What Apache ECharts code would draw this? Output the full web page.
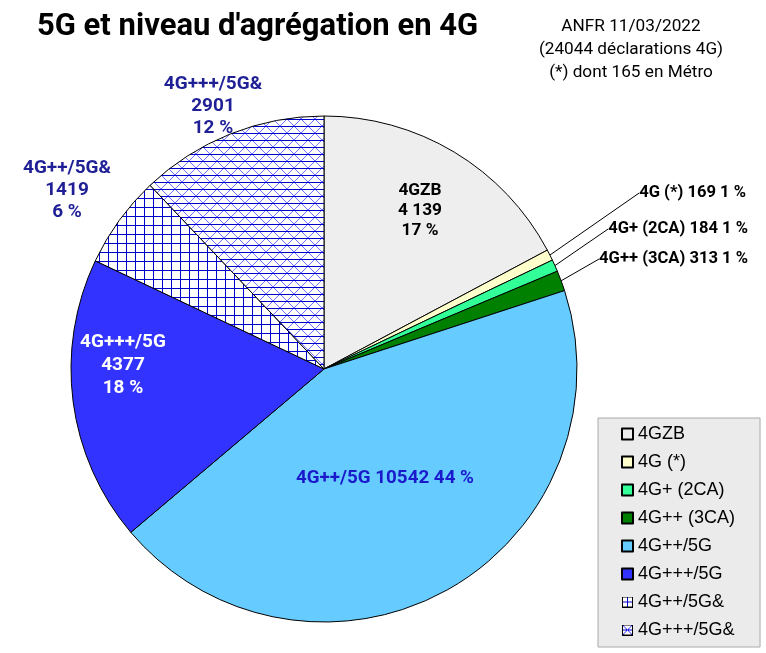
<!DOCTYPE html>
<html><head><meta charset="utf-8">
<script src="https://cdn.jsdelivr.net/npm/echarts@6/dist/echarts.min.js"></script>
<style>html,body{margin:0;padding:0;background:#fff}#c{width:766px;height:653px}</style>
</head><body><div id="c"></div>
<script>
const categories = ['4GZB', '4G (*)', '4G+ (2CA)', '4G++ (3CA)', '4G++/5G', '4G+++/5G', '4G++/5G&', '4G+++/5G&'];
const values = [4139, 169, 184, 313, 10542, 4377, 1419, 2901];
const titleText = "5G et niveau d'agrégation en 4G";
const noteLines = ['ANFR 11/03/2022', '(24044 déclarations 4G)', '(*) dont 165 en Métro'];

function makeGrid(){
  const s = 9, c = document.createElement('canvas'); c.width = s; c.height = s;
  const g = c.getContext('2d');
  g.fillStyle = '#fff'; g.fillRect(0,0,s,s);
  g.fillStyle = '#0000cc'; g.fillRect(0,0,s,1); g.fillRect(0,0,1,s);
  return c;
}
function makeCross(){
  const s = 14, c = document.createElement('canvas'); c.width = s; c.height = s;
  const g = c.getContext('2d');
  g.fillStyle = '#fff'; g.fillRect(0,0,s,s);
  g.strokeStyle = '#7070ff'; g.lineWidth = 1;
  g.beginPath(); g.moveTo(-1,-1); g.lineTo(s+1,s+1); g.moveTo(s+1,-1); g.lineTo(-1,s+1); g.stroke();
  g.fillStyle = '#0000cc'; g.fillRect(0,0,s,1); g.fillRect(0,7,s,1);
  return c;
}
function makeIcon(kind){
  const s = 11, c = document.createElement('canvas'); c.width = s; c.height = s;
  const g = c.getContext('2d');
  g.fillStyle = '#fff'; g.fillRect(0,0,s,s);
  g.fillStyle = '#0000cc';
  if (kind === 'grid') { g.fillRect(5,0,1,s); g.fillRect(0,5,s,1); }
  else {
    g.strokeStyle = '#3030ff'; g.lineWidth = 1;
    g.beginPath(); g.moveTo(0,0); g.lineTo(s,s); g.moveTo(s,0); g.lineTo(0,s); g.stroke();
    g.fillRect(0,5,s,1);
  }
  g.strokeStyle = '#000'; g.lineWidth = 1; g.strokeRect(0.5,0.5,s-1,s-1);
  return 'image://' + c.toDataURL();
}

const colors = ['#eeeeee', '#ffffcc', '#33ff99', '#008000', '#66ccff', '#3333ff',
  {image: makeGrid(), repeat: 'repeat'}, {image: makeCross(), repeat: 'repeat'}];

const labelPos = [[420,211,'center'],[746,193,'right'],[748,229,'right'],[748,259,'right'],
                  [385,478,'center'],[123,365,'center'],[67,190,'center'],[213,106,'center']];

const base = {fontFamily: 'Roboto', fontWeight: 'bold', fontSize: 17};
function fmtSpace(v){ return String(v).replace(/\B(?=(\d{3})+(?!\d))/g, ' '); }
const labelCfg = [
  Object.assign({}, base, {position:'inside', color:'#000', fontSize:17.3, lineHeight:20,
    formatter: p => p.name + '\n' + fmtSpace(p.value) + '\n' + p.percent + ' %'}),
  Object.assign({}, base, {position:'outside', color:'#000', fontSize:16.6, formatter:'{b} {c} {d} %'}),
  Object.assign({}, base, {position:'outside', color:'#000', fontSize:16.6, formatter:'{b} {c} {d} %'}),
  Object.assign({}, base, {position:'outside', color:'#000', fontSize:16.6, formatter:'{b} {c} {d} %'}),
  Object.assign({}, base, {position:'inside', color:'#1a1acc', fontSize:18.8, formatter:'{b} {c} {d} %'}),
  Object.assign({}, base, {position:'inside', color:'#fff', fontSize:19, lineHeight:23, formatter:'{b}\n{c}\n{d} %'}),
  Object.assign({}, base, {position:'outside', color:'#1f1f96', fontSize:19, lineHeight:22, formatter:'{b}\n{c}\n{d} %'}),
  Object.assign({}, base, {position:'outside', color:'#1f1f96', fontSize:19, lineHeight:22, formatter:'{b}\n{c}\n{d} %'})
];

const legendData = categories.map((n, i) => {
  if (i === 6) return {name: n, icon: makeIcon('grid')};
  if (i === 7) return {name: n, icon: makeIcon('cross')};
  return {name: n, icon: 'rect'};
});

const chart = echarts.init(document.getElementById('c'), null, {renderer: 'canvas'});
chart.setOption({
  animation: false,
  backgroundColor: '#fff',
  title: {text: titleText, left: 32, top: 7,
    textStyle: {fontFamily: 'Roboto', fontSize: 31, fontWeight: 'bold', color: '#000'}},
  graphic: [{type: 'text', x: 631, y: 15.5, silent: true,
    style: {text: noteLines.join('\n'), textAlign: 'center', fontFamily: 'Roboto', fontSize: 17.2, lineHeight: 23, fill: '#000'}}],
  legend: {
    orient: 'vertical', left: 598, top: 418, selectedMode: false,
    itemWidth: 11, itemHeight: 11, itemGap: 8,
    padding: [6, 25, 7, 23],
    backgroundColor: '#ebebeb', borderColor: '#aaaaaa', borderWidth: 1,
    textStyle: {fontFamily: 'Liberation Sans', fontSize: 18, color: '#000', lineHeight: 20},
    data: legendData
  },
  series: [{
    type: 'pie',
    center: [324, 369], radius: 253,
    startAngle: 90, clockwise: true,
    percentPrecision: 0,
    avoidLabelOverlap: false,
    emphasis: {disabled: true},
    itemStyle: {borderColor: '#000', borderWidth: 1},
    labelLine: {length: 20, length2: 0, lineStyle: {color: '#000', width: 1}},
    labelLayout: function(p){
      const q = labelPos[p.dataIndex];
      return {x: q[0], y: q[1], align: q[2], verticalAlign: 'middle'};
    },
    data: categories.map((n, i) => ({
      name: n, value: values[i],
      itemStyle: {color: colors[i]},
      label: labelCfg[i],
      labelLine: {show: i >= 1 && i <= 3}
    }))
  }]
});
</script></body></html>
